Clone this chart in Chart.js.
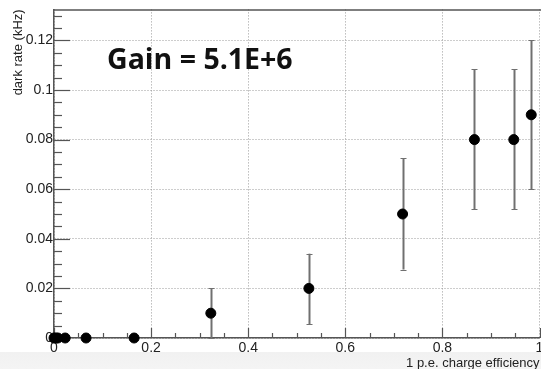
<!DOCTYPE html>
<html>
<head>
<meta charset="utf-8">
<script src="https://cdn.jsdelivr.net/npm/chart.js@4.4.0/dist/chart.umd.min.js"></script>
<style>
  html, body { margin: 0; padding: 0; }
  body { width: 541px; height: 369px; overflow: hidden;
         background: linear-gradient(#ffffff 0, #ffffff 352px, #f1f1f1 352px, #f4f4f4 369px); }
  #wrap { width: 541px; height: 369px; position: relative; overflow: hidden; }
</style>
</head>
<body>
<div id="wrap"><canvas id="grafico" width="556" height="369"></canvas></div>
<script>
// datos
const eficiencia = [0, 0.004, 0.008, 0.023, 0.066, 0.165, 0.323, 0.525, 0.718, 0.866, 0.947, 0.983];
const tasa       = [0, 0, 0, 0, 0, 0, 0.010, 0.020, 0.050, 0.080, 0.080, 0.090];
const errBajo    = [0, 0, 0, 0, 0, 0, 0.000, 0.0056, 0.0276, 0.052, 0.052, 0.060];
const errAlto    = [0, 0, 0, 0, 0, 0, 0.020, 0.034, 0.0724, 0.1084, 0.1084, 0.120];
const ticksX = [0, 0.2, 0.4, 0.6, 0.8, 1];
const ticksY = [0, 0.02, 0.04, 0.06, 0.08, 0.1, 0.12];
const textoGanancia = 'Gain = 5.1E+6';

const puntos = eficiencia.map((x, i) => ({ x: x, y: tasa[i] }));
const colorEje = '#555';

// barras de error + marcas estilo ROOT
const extras = {
  id: 'extras',
  beforeDatasetsDraw(chart) {
    const ctx = chart.ctx;
    const sx = chart.scales.x, sy = chart.scales.y;
    const a = chart.chartArea;
    ctx.save();
    // marco superior
    ctx.strokeStyle = colorEje;
    ctx.lineWidth = 1.5;
    ctx.beginPath();
    ctx.moveTo(a.left, a.top + 0.5);
    ctx.lineTo(a.right + 10, a.top + 0.5);
    ctx.stroke();
    // marcas eje y
    ctx.lineWidth = 1.2;
    for (let k = 0; k <= 26; k++) {
      const v = k * 0.005;
      const py = Math.round(sy.getPixelForValue(v)) + 0.5;
      if (py < a.top) continue;
      const largo = (k % 4 === 0) ? 16 : 8;
      ctx.beginPath();
      ctx.moveTo(a.left, py);
      ctx.lineTo(a.left + largo, py);
      ctx.stroke();
    }
    // marcas eje x
    for (let k = 0; k <= 20; k++) {
      const v = k * 0.05;
      const px = Math.round(sx.getPixelForValue(v)) + 0.5;
      const largo = (k % 4 === 0) ? 10 : 5;
      ctx.beginPath();
      ctx.moveTo(px, a.bottom);
      ctx.lineTo(px, a.bottom - largo);
      ctx.stroke();
    }
    // barras de error
    ctx.strokeStyle = '#707070';
    eficiencia.forEach((x, i) => {
      if (errAlto[i] === errBajo[i]) return;
      const px = Math.round(sx.getPixelForValue(x)) + 0.5;
      const p1 = sy.getPixelForValue(errBajo[i]);
      const p2 = sy.getPixelForValue(errAlto[i]);
      ctx.lineWidth = 2;
      ctx.beginPath();
      ctx.moveTo(px, p1);
      ctx.lineTo(px, p2);
      ctx.stroke();
      ctx.lineWidth = 1;
      ctx.beginPath();
      ctx.moveTo(px - 3, Math.round(p1) + 0.5); ctx.lineTo(px + 3, Math.round(p1) + 0.5);
      ctx.moveTo(px - 3, Math.round(p2) + 0.5); ctx.lineTo(px + 3, Math.round(p2) + 0.5);
      ctx.stroke();
    });
    ctx.restore();
  },
  afterDraw(chart) {
    const ctx = chart.ctx;
    ctx.save();
    ctx.fillStyle = '#111';
    ctx.font = 'bold 28.5px "Open Sans"';
    ctx.textBaseline = 'alphabetic';
    ctx.fillText(textoGanancia, 107, 69);
    ctx.restore();
  }
};

new Chart(document.getElementById('grafico'), {
  type: 'scatter',
  data: {
    datasets: [{
      data: puntos,
      backgroundColor: '#000',
      borderColor: '#000',
      pointRadius: 5,
      pointHoverRadius: 5,
      clip: false
    }]
  },
  options: {
    responsive: false,
    animation: false,
    events: [],
    layout: { padding: { top: 7, right: 16.5, left: 0, bottom: 0 } },
    plugins: { legend: { display: false }, tooltip: { enabled: false } },
    scales: {
      x: {
        type: 'linear', min: 0, max: 1,
        afterFit(s) { s.height = 31; },
        afterBuildTicks(s) { s.ticks = ticksX.map(v => ({ value: v })); },
        grid: { color: '#9a9a9a', lineWidth: 1, drawTicks: false },
        border: { color: colorEje, width: 1.5, dash: [1, 2] },
        ticks: { padding: 2, color: '#222', font: { family: 'Liberation Sans', size: 14 },
                 maxRotation: 0, callback: v => String(+v.toFixed(2)) },
        title: { display: true, text: '1 p.e. charge efficiency', align: 'end',
                 color: '#222', font: { family: 'Liberation Sans', size: 13, lineHeight: 0.8 },
                 padding: { top: 0, bottom: 0 } }
      },
      y: {
        type: 'linear', min: 0, max: 0.1325,
        afterFit(s) { s.width = 54; },
        afterBuildTicks(s) { s.ticks = ticksY.map(v => ({ value: v })); },
        grid: { color: '#9a9a9a', lineWidth: 1, drawTicks: false },
        border: { color: colorEje, width: 1.5, dash: [1, 2] },
        ticks: { padding: 1, color: '#222', font: { family: 'Liberation Sans', size: 14 },
                 callback: v => String(+v.toFixed(2)) },
        title: { display: true, text: 'dark rate (kHz)', align: 'end',
                 color: '#222', font: { family: 'Liberation Sans', size: 13 }, padding: { top: 11, bottom: 0 } }
      }
    }
  },
  plugins: [extras]
});
</script>
</body>
</html>
